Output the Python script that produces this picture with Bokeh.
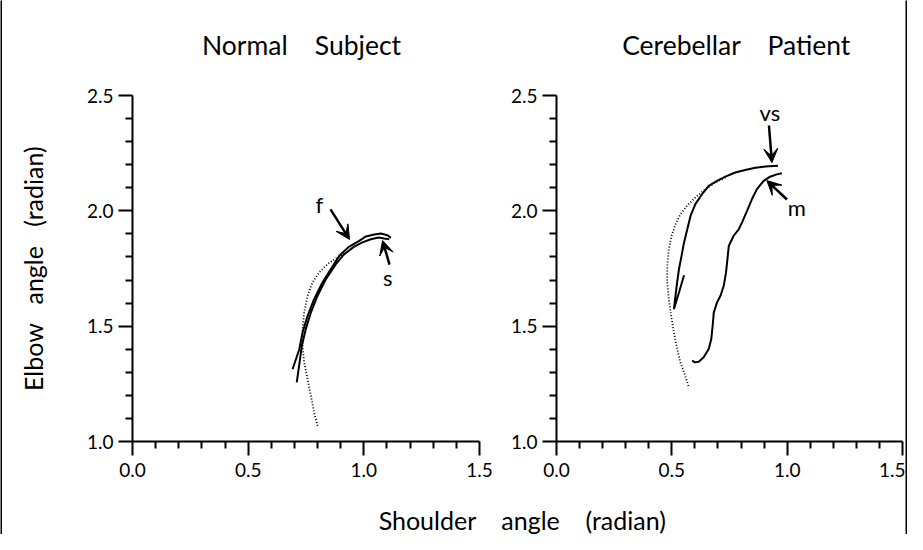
from bokeh.plotting import figure
from bokeh.layouts import row, column
from bokeh.models import Range1d, FixedTicker, PrintfTickFormatter, Arrow, VeeHead, Label
from bokeh.embed import file_html
from bokeh.resources import INLINE

FONT = "Lato"
GAP_T = " \u00a0\u00a0\u00a0"
GAP_X = " \u00a0\u00a0\u00a0"
GAP_Y = " \u00a0\u00a0"

# ---------------- data ----------------
x_ticks = [0.0, 0.5, 1.0, 1.5]
x_minor = [0.1, 0.2, 0.3, 0.4, 0.6, 0.7, 0.8, 0.9, 1.1, 1.2, 1.3, 1.4]
y_ticks = [1.0, 1.5, 2.0, 2.5]
y_minor = [1.1, 1.2, 1.3, 1.4, 1.6, 1.7, 1.8, 1.9, 2.1, 2.2, 2.3, 2.4]

titles = ["Normal" + GAP_T + "Subject", "Cerebellar" + GAP_T + "Patient"]
x_label = "Shoulder" + GAP_X + "angle" + GAP_X + "(radian)"
y_label = "Elbow" + GAP_Y + "angle" + GAP_Y + "(radian)"

# Normal subject, fast movement (solid)
normal_f_x = [0.692, 0.721, 0.735, 0.757, 0.785, 0.821, 0.857, 0.896, 0.937, 0.980, 1.009, 1.045, 1.074, 1.102, 1.117]
normal_f_y = [1.313, 1.400, 1.472, 1.545, 1.617, 1.689, 1.747, 1.808, 1.845, 1.870, 1.889, 1.897, 1.902, 1.894, 1.883]
# Normal subject, slow movement (solid)
normal_s_x = [0.710, 0.718, 0.732, 0.749, 0.771, 0.800, 0.836, 0.879, 0.915, 0.958, 0.994, 1.030, 1.064, 1.088, 1.110]
normal_s_y = [1.256, 1.313, 1.415, 1.487, 1.559, 1.632, 1.704, 1.769, 1.812, 1.845, 1.863, 1.877, 1.884, 1.880, 1.877]
# Normal subject, dotted trace
normal_d_x = [0.800, 0.785, 0.771, 0.757, 0.742, 0.735, 0.735, 0.742, 0.757, 0.778, 0.807, 0.843, 0.886, 0.922]
normal_d_y = [1.068, 1.126, 1.198, 1.270, 1.342, 1.415, 1.487, 1.559, 1.632, 1.689, 1.733, 1.769, 1.798, 1.819]

# Cerebellar patient, very slow (solid)
patient_vs_x = [0.960, 0.905, 0.862, 0.818, 0.775, 0.732, 0.696, 0.660, 0.631, 0.602, 0.581, 0.567, 0.553, 0.542,
                0.531, 0.523, 0.516, 0.509, 0.531, 0.553]
patient_vs_y = [2.195, 2.192, 2.187, 2.177, 2.166, 2.148, 2.130, 2.108, 2.072, 2.029, 1.978, 1.920, 1.863, 1.805,
                1.747, 1.690, 1.632, 1.574, 1.646, 1.721]
# Cerebellar patient, medium (solid)
patient_m_x = [0.588, 0.600, 0.617, 0.638, 0.660, 0.671, 0.677, 0.682, 0.696, 0.711, 0.725, 0.735, 0.741, 0.747,
               0.768, 0.790, 0.804, 0.826, 0.847, 0.869, 0.898, 0.926, 0.955, 0.977]
patient_m_y = [1.351, 1.343, 1.346, 1.365, 1.401, 1.444, 1.502, 1.560, 1.603, 1.632, 1.675, 1.733, 1.790, 1.848,
               1.892, 1.920, 1.949, 2.000, 2.050, 2.094, 2.130, 2.148, 2.158, 2.163]
# Cerebellar patient, dotted trace
patient_d_x = [0.732, 0.689, 0.646, 0.602, 0.566, 0.537, 0.516, 0.499, 0.487, 0.480, 0.480, 0.487, 0.497, 0.509,
               0.523, 0.537, 0.553, 0.574]
patient_d_y = [2.144, 2.123, 2.094, 2.058, 2.022, 1.985, 1.942, 1.892, 1.834, 1.762, 1.690, 1.617, 1.545, 1.473,
               1.401, 1.343, 1.300, 1.235]

# annotation arrows: (label, label_x, label_y, start_x, start_y, end_x, end_y)
normal_marks = [("f", 0.808, 2.027, 0.856, 2.006, 0.938, 1.876),
                ("s", 1.103, 1.711, 1.111, 1.767, 1.081, 1.871)]
patient_marks = [("vs", 0.925, 2.426, 0.921, 2.370, 0.934, 2.209),
                 ("m", 1.042, 2.014, 0.999, 2.049, 0.912, 2.131)]


def make_panel(width, min_left, min_right):
    p = figure(width=width, height=415, x_range=Range1d(0.0, 1.5), y_range=Range1d(1.0, 2.5),
               output_backend="svg", toolbar_location=None, title=None,
               min_border_left=min_left, min_border_right=min_right,
               min_border_top=23, min_border_bottom=46)
    p.outline_line_color = None
    p.grid.visible = False
    p.background_fill_color = "white"
    p.border_fill_color = "white"

    p.xaxis.ticker = FixedTicker(ticks=x_ticks, minor_ticks=x_minor)
    p.yaxis.ticker = FixedTicker(ticks=y_ticks, minor_ticks=y_minor)
    for ax in (p.xaxis, p.yaxis):
        ax.formatter = PrintfTickFormatter(format="%.1f")
        ax.axis_line_width = 2
        ax.axis_line_color = "black"
        ax.major_tick_line_width = 2
        ax.minor_tick_line_width = 2
        ax.major_tick_line_color = "black"
        ax.minor_tick_line_color = "black"
        ax.major_tick_in = 0
        ax.minor_tick_in = 0
        ax.major_tick_out = 14
        ax.minor_tick_out = 7
        ax.major_label_text_font = FONT
        ax.major_label_text_font_size = "19px"
        ax.major_label_text_color = "black"
    p.xaxis.major_label_standoff = 7
    p.yaxis.major_label_standoff = 5
    return p


def add_marks(p, marks):
    for txt, lx, ly, sx, sy, ex, ey in marks:
        p.add_layout(Arrow(end=VeeHead(size=14, fill_color="black", line_color="black", line_width=1),
                           x_start=sx, y_start=sy, x_end=ex, y_end=ey,
                           line_color="black", line_width=2.5))
        p.add_layout(Label(x=lx, y=ly, text=txt, text_font=FONT, text_font_size="22px",
                           text_align="center", text_baseline="middle", text_color="black"))


def blank(w, h):
    b = figure(width=w, height=h, title=None, x_range=Range1d(0, w), y_range=Range1d(0, h),
               output_backend="svg", toolbar_location=None,
               x_axis_location=None, y_axis_location=None,
               min_border=0, min_border_left=0, min_border_right=0, min_border_top=0, min_border_bottom=0)
    b.grid.visible = False
    b.outline_line_color = None
    b.border_fill_color = "white"
    b.background_fill_color = "white"
    return b


def strip(w, h):
    s = blank(w, h)
    s.background_fill_color = "black"
    s.border_fill_color = "black"
    return s


# ---------------- titles ----------------
p0 = blank(903, 70)
for txt, cx in zip(titles, [299, 734]):
    p0.add_layout(Label(x=cx, y=28, text=txt, text_font=FONT, text_font_size="26.5px",
                        text_align="center", text_baseline="middle", text_color="black"))

# ---------------- left panel ----------------
p1 = make_panel(495, 130, 18)
p1.yaxis.axis_label = y_label
p1.yaxis.axis_label_text_font = FONT
p1.yaxis.axis_label_text_font_size = "25px"
p1.yaxis.axis_label_text_font_style = "normal"
p1.yaxis.axis_label_text_color = "black"
p1.yaxis.axis_label_standoff = 36
p1.line(normal_f_x, normal_f_y, line_color="black", line_width=2)
p1.line(normal_s_x, normal_s_y, line_color="black", line_width=2)
p1.line(normal_d_x, normal_d_y, line_color="black", line_width=1.8, line_dash="1 2")
add_marks(p1, normal_marks)

# ---------------- right panel ----------------
p2 = make_panel(408, 59, 3)
p2.line(patient_vs_x, patient_vs_y, line_color="black", line_width=2)
p2.line(patient_m_x, patient_m_y, line_color="black", line_width=2)
p2.line(patient_d_x, patient_d_y, line_color="black", line_width=1.8, line_dash="1 2")
add_marks(p2, patient_marks)

# ---------------- shared x label ----------------
p3 = blank(903, 47)
p3.add_layout(Label(x=520, y=15, text=x_label, text_font=FONT, text_font_size="25px",
                    text_align="center", text_baseline="middle", text_color="black"))

middle = column(strip(903, 2), p0, row(p1, p2), p3)
layout = row(strip(2, 534), middle, strip(2, 534))

open("out.html", "w").write(file_html(layout, INLINE))
